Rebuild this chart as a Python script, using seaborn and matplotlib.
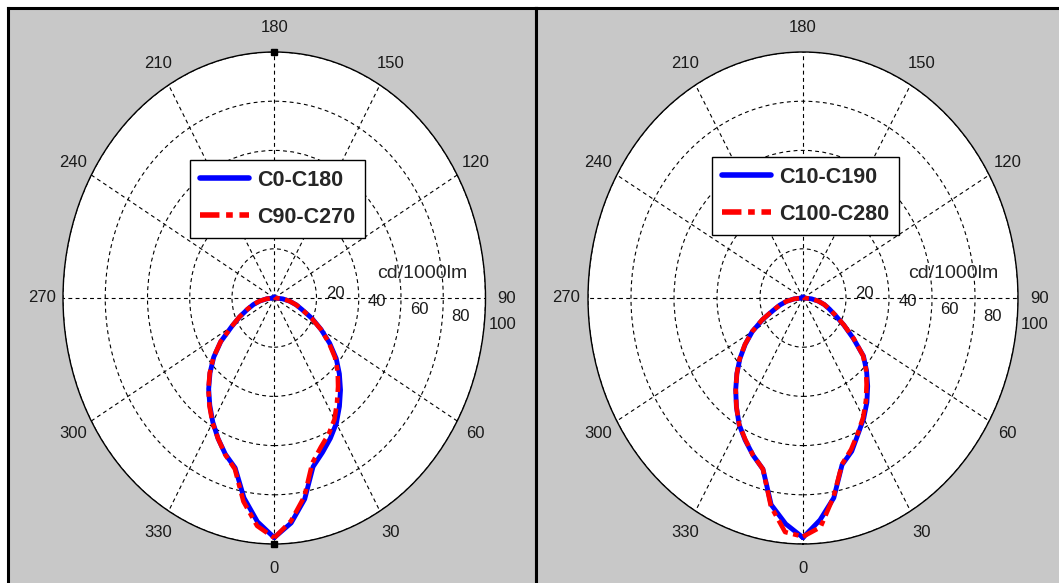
import numpy as np
import matplotlib
matplotlib.use("Agg")
import matplotlib.pyplot as plt
import matplotlib.transforms as mtransforms
import seaborn as sns

# ---- data, angles in degrees, 0 at bottom ----
angles = [0, 5, 10, 15, 20, 25, 30, 35, 40, 45, 50, 55, 60, 65, 70, 75, 80, 85, 90,
          180,
          270, 275, 280, 285, 290, 295, 300, 305, 310, 315, 320, 325, 330, 335, 340,
          345, 350, 355, 360]

left_c0_c180 = [97.4, 91.8, 83.0, 71.0, 66.8, 62.9, 58.8, 53.8, 48.8, 43.6, 38.3, 32.0,
                25.6, 19.8, 14.2, 10.8, 7.4, 4.0, 0.5,
                0.5,
                0.5, 3.5, 6.8, 10.2, 13.5, 18.0, 23.3, 30.9, 37.4, 43.0, 48.3, 53.2,
                58.2, 63.0, 67.6, 71.5, 82.5, 91.3, 97.4]
left_c90_c270 = [97.5, 91.0, 82.0, 69.5, 64.5, 61.0, 57.0, 51.8, 47.0, 42.5, 37.5, 31.5,
                 25.5, 19.5, 14.2, 10.8, 7.4, 4.0, 0.5,
                 0.5,
                 0.5, 3.6, 7.0, 10.4, 13.7, 18.2, 23.5, 31.0, 37.6, 43.2, 48.5, 53.5,
                 58.5, 63.0, 67.8, 72.0, 84.0, 93.0, 97.5]

right_c10_c190 = [97.4, 90.6, 82.5, 70.2, 66.3, 60.8, 56.5, 51.8, 46.8, 41.8, 36.7, 28.5,
                  21.9, 16.5, 13.0, 10.2, 7.2, 4.0, 0.5,
                  0.5,
                  0.5, 4.2, 7.8, 11.2, 14.8, 20.7, 27.2, 32.8, 38.3, 43.5, 48.7, 54.0,
                  59.4, 63.7, 68.0, 72.0, 85.3, 92.2, 97.4]
right_c100_c280 = [97.0, 93.5, 82.0, 70.0, 65.5, 60.5, 56.0, 51.0, 46.0, 41.5, 36.5, 28.8,
                   22.0, 16.7, 13.1, 10.3, 7.2, 4.0, 0.5,
                   0.5,
                   0.5, 4.2, 7.8, 11.2, 15.0, 21.0, 27.3, 33.0, 38.5, 43.5, 48.7, 54.0,
                   59.4, 63.5, 68.0, 72.0, 86.0, 95.5, 97.0]

# small black markers on the outer ring of the left plot
marker_angles = [0, 180]
marker_r = [100, 100]

theta_ticks = [0, 30, 60, 90, 120, 150, 180, 210, 240, 270, 300, 330]
r_ticks = [20, 40, 60, 80, 100]

panels = [
    {"names": ["C0-C180", "C90-C270"], "series": [left_c0_c180, left_c90_c270],
     "bg": [8 / 1059, -0.02, 528 / 1059, 1.003 - 10 / 583 + 0.02],
     "polar": [63 / 1059, 39 / 583, 422.5 / 1059, 492 / 583],
     "legend": (190 / 1059, 1 - 160 / 583), "markers": True},
    {"names": ["C10-C190", "C100-C280"], "series": [right_c10_c190, right_c100_c280],
     "bg": [536 / 1059, -0.02, 530 / 1059, 1.003 - 10 / 583 + 0.02],
     "polar": [588 / 1059, 39 / 583, 430 / 1059, 492 / 583],
     "legend": (712 / 1059, 1 - 157 / 583), "markers": False},
]

sns.set_style("white")
plt.rcParams['font.family'] = ['Liberation Sans Narrow', 'Liberation Sans', 'DejaVu Sans']

fig = plt.figure(figsize=(10.59, 5.83), dpi=100)
fig.patch.set_facecolor("white")

theta_rad = np.deg2rad(angles)

for panel in panels:
    # grey panel background with black frame
    bg = fig.add_axes(panel["bg"])
    bg.set_facecolor("#c8c8c8")
    bg.set_xticks([])
    bg.set_yticks([])
    for side in ["top", "left", "right"]:
        bg.spines[side].set_color("black")
        bg.spines[side].set_linewidth(2.2)
    bg.spines["bottom"].set_visible(False)

    # polar plot, stretched into an ellipse
    ax = fig.add_axes(panel["polar"], projection="polar")
    ax.set_aspect("auto")
    ax.set_facecolor("white")
    ax.set_theta_zero_location("S")
    ax.set_theta_direction(1)

    sns.lineplot(x=theta_rad, y=panel["series"][0], ax=ax, sort=False, estimator=None,
                 color="#0000ff", linewidth=3.5, label=panel["names"][0], zorder=3)
    sns.lineplot(x=theta_rad, y=panel["series"][1], ax=ax, sort=False, estimator=None,
                 color="#ff0000", linewidth=3.3, linestyle=(0, (3.5, 1.2, 1.2, 1.2)),
                 label=panel["names"][1], zorder=4)

    if panel["markers"]:
        ax.plot(np.deg2rad(marker_angles), marker_r, "s", color="black", ms=5,
                clip_on=False, zorder=5)

    ax.set_ylim(0, 100)
    ax.set_xticks(np.deg2rad(theta_ticks))
    ax.set_xticklabels([])
    ax.set_yticks(r_ticks)
    ax.set_yticklabels([])
    ax.set_xlabel("")
    ax.set_ylabel("")
    ax.grid(True, color="black", linestyle=(0, (3.5, 3)), linewidth=0.8)
    ax.spines["polar"].set_color("black")
    ax.spines["polar"].set_linewidth(1.0)

    # angle labels just outside the ring
    for a in theta_ticks:
        ax.text(np.deg2rad(a), 110, str(a), ha="center", va="center", fontsize=12,
                color="#1a1a1a")

    # radial labels along a slightly tilted line
    offs = mtransforms.offset_copy(ax.transData, fig=fig, x=14, y=8.6, units="points")
    for r in r_ticks:
        ax.text(np.deg2rad(81), r, str(r), transform=offs, ha="center", va="center",
                fontsize=12, color="#1a1a1a")

    ax.text(0.85, 0.55, "cd/1000lm", transform=ax.transAxes, ha="center", va="center",
            fontsize=14, fontfamily=["Liberation Sans", "DejaVu Sans"])

    leg = ax.legend(loc="upper left", bbox_to_anchor=panel["legend"],
                    bbox_transform=fig.transFigure, borderaxespad=0, fancybox=False,
                    framealpha=1, edgecolor="black", handlelength=2.3,
                    handletextpad=0.35, borderpad=0.45, labelspacing=0.75,
                    prop={"family": ["Liberation Sans", "DejaVu Sans"], "weight": "bold",
                          "size": 15.5})
    leg.get_frame().set_linewidth(1.0)
    for line in leg.get_lines():
        line.set_linewidth(4)

plt.savefig("out.png", dpi=100)
plt.close()
